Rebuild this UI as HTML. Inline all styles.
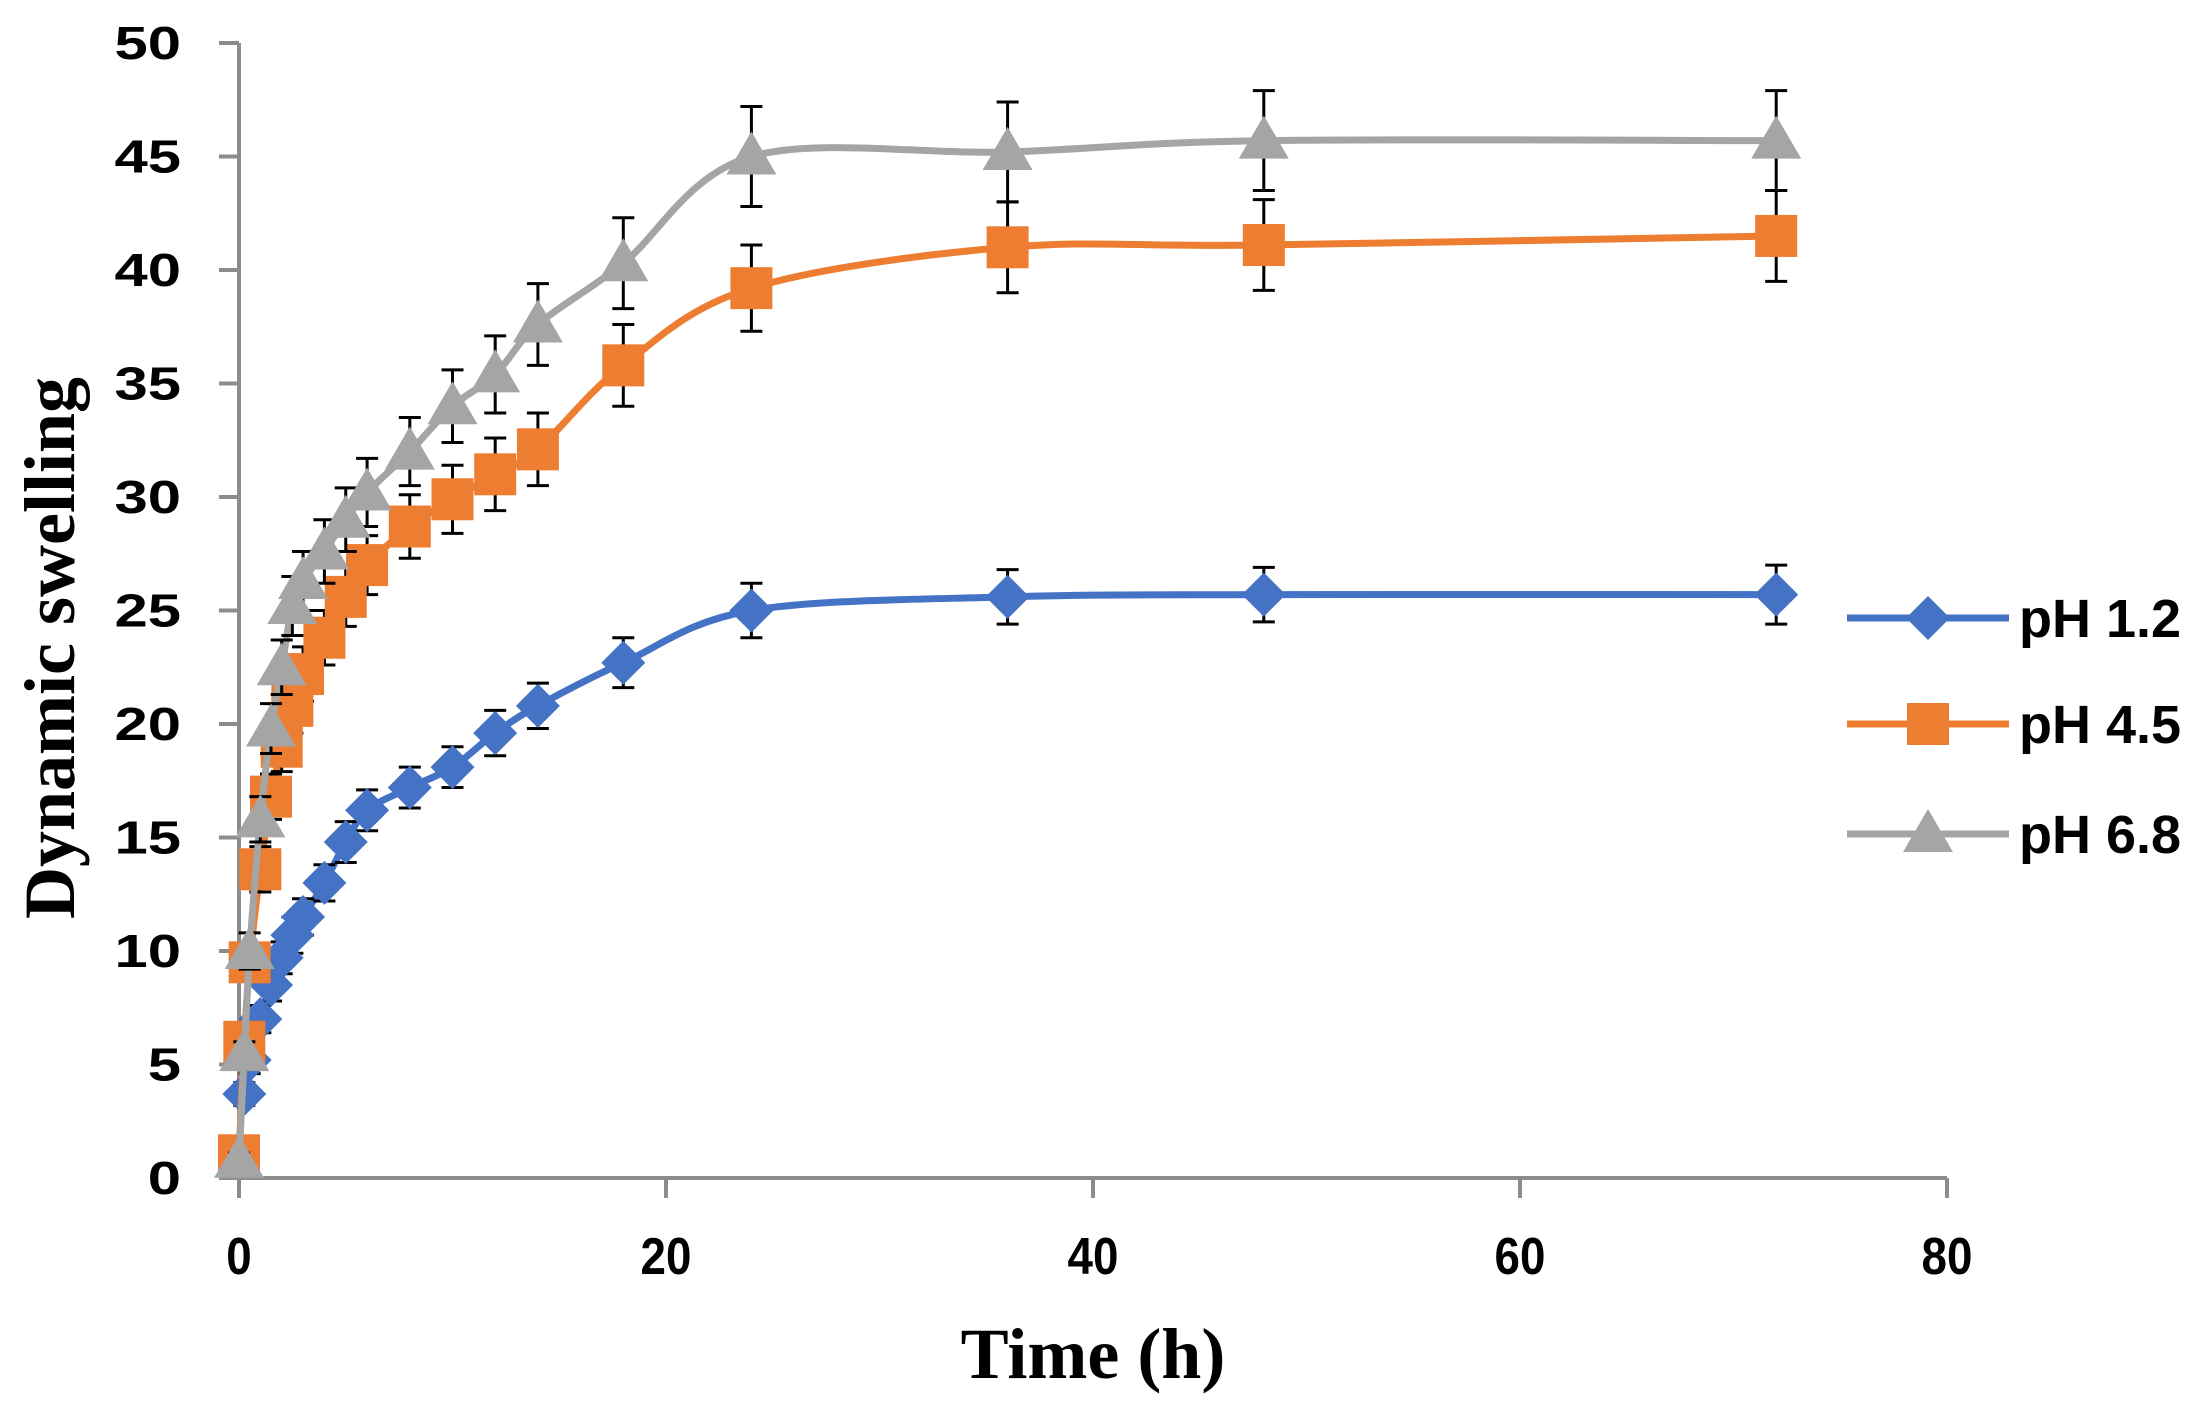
<!DOCTYPE html>
<html><head><meta charset="utf-8"><style>
html,body{margin:0;padding:0;background:#fff;}
svg{display:block;}
.yt{font-family:"Liberation Sans",Arial,sans-serif;font-weight:bold;font-size:46px;}
.xt{font-family:"Liberation Sans",Arial,sans-serif;font-weight:bold;font-size:52px;}
.ti{font-family:"Liberation Serif","Times New Roman",serif;font-weight:bold;font-size:72px;}
.lg{font-family:"Liberation Sans",Arial,sans-serif;font-weight:bold;font-size:54px;}
</style></head><body>
<svg id="chart" width="2212" height="1406" viewBox="0 0 2212 1406" xmlns="http://www.w3.org/2000/svg"></svg>
<script>
const timesBlue=[0.25,0.5,1,1.5,2,2.5,3,4,5,6,8,10,12,14,18,24,36,48,72];
const valuesBlue=[3.7,5.2,7,8.5,9.7,10.7,11.5,13,14.8,16.2,17.2,18.1,19.6,20.8,22.7,25,25.6,25.7,25.7];
const errBlue=[0.5,0.6,0.6,0.7,0.7,0.8,0.8,0.8,0.9,0.9,0.9,0.9,1.0,1.0,1.1,1.2,1.2,1.2,1.3];
const timesOrange=[0,0.25,0.5,1,1.5,2,2.5,3,4,5,6,8,10,12,14,18,24,36,48,72];
const valuesOrange=[1,6,9.5,13.6,16.8,19,20.8,22.2,23.8,25.6,27,28.7,29.9,31,32.1,35.8,39.2,41,41.1,41.5];
const errOrange=[0.3,0.5,0.8,1,1,1.1,1.2,1.2,1.2,1.3,1.3,1.4,1.5,1.6,1.6,1.8,1.9,2,2,2];
const timesGray=[0,0.25,0.5,1,1.5,2,2.5,3,4,5,6,8,10,12,14,18,24,36,48,72];
const valuesGray=[0.8,5.5,10,15.8,19.8,22.5,25.2,26.3,27.6,29,30.2,32,34,35.4,37.6,40.3,45,45.2,45.7,45.7];
const errGray=[0.3,0.5,0.8,1,1.1,1.2,1.3,1.3,1.4,1.4,1.5,1.5,1.6,1.7,1.8,2,2.2,2.2,2.2,2.2];
const yTicks=[0,5,10,15,20,25,30,35,40,45,50];
const xTicks=[0,20,40,60,80];
const seriesNames=["pH 1.2","pH 4.5","pH 6.8"];

const NS="http://www.w3.org/2000/svg";
const svg=document.getElementById('chart');
const X0=239,X1=1947,Y0=1178,Y1=43;
function xs(v){return X0+(v-0)/(80-0)*(X1-X0);}
function ys(v){return Y0-(v-0)/(50-0)*(Y0-Y1);}
function mk(tag,attrs,parent){const e=document.createElementNS(NS,tag);for(const k in attrs)e.setAttribute(k,attrs[k]);(parent||svg).appendChild(e);return e;}

const axes=mk('g',{});


const ya=mk('line',{x1:X0,y1:Y1,x2:X0,y2:Y0,stroke:'#8c8c8c','stroke-width':4},axes);


const xa=mk('line',{x1:X0-2,y1:Y0,x2:X1,y2:Y0,stroke:'#8c8c8c','stroke-width':4},axes);


yTicks.forEach(t=>{
  const l=mk('line',{x1:X0-20,y1:ys(t),x2:X0,y2:ys(t),stroke:'#8c8c8c','stroke-width':4},axes);
  
  
  const tx=mk('text',{x:0,y:0,'text-anchor':'end',class:'yt',transform:`translate(181,${ys(t)+16}) scale(1.3,1)`},axes);
  tx.textContent=t;
  
  
});
xTicks.forEach(t=>{
  const l=mk('line',{x1:xs(t),y1:Y0,x2:xs(t),y2:Y0+20,stroke:'#8c8c8c','stroke-width':4},axes);
  
  
  const tx=mk('text',{x:0,y:0,'text-anchor':'middle',class:'xt',transform:`translate(${xs(t)},1274) scale(0.88,1)`},axes);
  tx.textContent=t;
  
  
});
const yt=mk('text',{x:0,y:0,'text-anchor':'middle',class:'ti',transform:'translate(74,648) rotate(-90)'});
yt.textContent='Dynamic swelling';


const xt=mk('text',{x:1093,y:1378,'text-anchor':'middle',class:'ti'});
xt.textContent='Time (h)';



function smoothPath(pts){
  let d='M'+pts[0][0]+','+pts[0][1];
  for(let i=0;i<pts.length-1;i++){
    const p0=pts[Math.max(0,i-1)],p1=pts[i],p2=pts[i+1],p3=pts[Math.min(pts.length-1,i+2)];
    const c1=[p1[0]+(p2[0]-p0[0])/6,p1[1]+(p2[1]-p0[1])/6];
    const c2=[p2[0]-(p3[0]-p1[0])/6,p2[1]-(p3[1]-p1[1])/6];
    d+=' C'+c1[0]+','+c1[1]+' '+c2[0]+','+c2[1]+' '+p2[0]+','+p2[1];
  }
  return d;
}
function marker(shape,x,y,color,g){
  let e;
  if(shape==='diamond') e=mk('polygon',{points:`${x},${y-22} ${x+22},${y} ${x},${y+22} ${x-22},${y}`,fill:color},g);
  else if(shape==='square') e=mk('rect',{x:x-21,y:y-21,width:42,height:42,fill:color},g);
  else e=mk('polygon',{points:`${x},${y-25} ${x+25},${y+18} ${x-25},${y+18}`,fill:color},g);
  return e;
}
function drawSeries(times,vals,errs,color,shape,name){
  const g=mk('g',{});
  
  
  const pts=times.map((t,i)=>[xs(t),ys(vals[i])]);
  const p=mk('path',{d:smoothPath(pts),fill:'none',stroke:color,'stroke-width':7,'stroke-linejoin':'round'},g);
  
  
  times.forEach((t,i)=>{
    const x=xs(t),ya=ys(vals[i]+errs[i]),yb=ys(vals[i]-errs[i]);
    const eb=mk('path',{d:`M${x},${ya}V${yb}M${x-11},${ya}H${x+11}M${x-11},${yb}H${x+11}`,stroke:'#000','stroke-width':3,fill:'none'},g);
    
    
  });
  times.forEach((t,i)=>{
    const m=marker(shape,xs(t),ys(vals[i]),color,g);
    
    
  });
}
drawSeries(timesBlue,valuesBlue,errBlue,'#4472c4','diamond','ph-1-2');
drawSeries(timesOrange,valuesOrange,errOrange,'#ed7d31','square','ph-4-5');
drawSeries(timesGray,valuesGray,errGray,'#a5a5a5','triangle','ph-6-8');

const legendY=[618,724,834];
const colors=['#4472c4','#ed7d31','#a5a5a5'];
const shapes=['diamond','square','triangle'];
seriesNames.forEach((n,i)=>{
  const g=mk('g',{});
  
  
  mk('line',{x1:1847,y1:legendY[i],x2:2009,y2:legendY[i],stroke:colors[i],'stroke-width':7},g);
  marker(shapes[i],1928,legendY[i],colors[i],g);
  const t=mk('text',{x:2019,y:legendY[i]+19,class:'lg'},g);
  t.textContent=n;
});
</script>
</body></html>
